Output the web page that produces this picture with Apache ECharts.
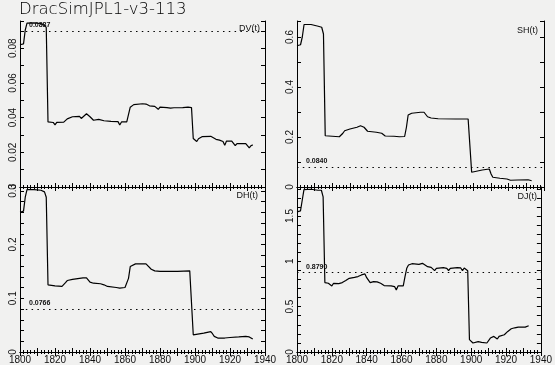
<!DOCTYPE html>
<html>
<head>
<meta charset="utf-8">
<script src="https://cdn.jsdelivr.net/npm/echarts@6/dist/echarts.min.js"></script>
<style>
  html, body { margin: 0; padding: 0; background: #f1f1f0; }
  #chart { width: 555px; height: 365px; }
</style>
</head>
<body>
<div id="chart"></div>
<script>
// Drac sim series (year, value)
const dvYears = [1800,1802,1803,1804,1808,1812,1814,1815,1816,1819,1820,1821,1825,1827,1830,1834,1835,1838,1840,1842,1845,1848,1852,1856,1857,1858,1861,1862,1863,1865,1870,1872,1874,1877,1879,1880,1884,1886,1887,1888,1893,1896,1897,1898,1899,1901,1902,1904,1909,1910,1912,1914,1916,1917,1918,1921,1923,1924,1929,1931,1932,1933];
const dvValues = [0.0820,0.0825,0.0905,0.0945,0.0946,0.0942,0.0932,0.0920,0.0375,0.0372,0.0358,0.0372,0.0374,0.0393,0.0405,0.0407,0.0395,0.0422,0.0405,0.0385,0.0390,0.0382,0.0378,0.0377,0.0357,0.0375,0.0376,0.0385,0.0460,0.0475,0.0480,0.0478,0.0468,0.0465,0.0448,0.0460,0.0458,0.0455,0.0448,0.0457,0.0458,0.0460,0.0452,0.0458,0.0280,0.0262,0.0278,0.0290,0.0292,0.0288,0.0275,0.0270,0.0262,0.0240,0.0265,0.0265,0.0238,0.0250,0.0250,0.0225,0.0238,0.0243];

const shYears = [1800,1802,1803,1804,1808,1812,1814,1815,1816,1820,1824,1825,1826,1827,1830,1834,1836,1837,1838,1840,1845,1848,1850,1855,1858,1861,1862,1863,1865,1870,1872,1874,1876,1880,1890,1897,1898,1899,1900,1905,1909,1910,1911,1915,1919,1921,1925,1931,1933];
const shValues = [0.565,0.569,0.600,0.650,0.650,0.643,0.639,0.612,0.205,0.203,0.201,0.201,0.215,0.225,0.232,0.239,0.245,0.248,0.239,0.223,0.219,0.215,0.204,0.203,0.201,0.202,0.238,0.288,0.295,0.299,0.299,0.281,0.276,0.273,0.272,0.272,0.265,0.059,0.065,0.068,0.072,0.052,0.039,0.035,0.032,0.027,0.028,0.029,0.025];

const dhYears = [1800,1802,1803,1804,1808,1812,1814,1815,1816,1820,1824,1825,1826,1827,1830,1834,1836,1837,1838,1840,1842,1846,1848,1850,1855,1857,1860,1861,1862,1863,1864,1866,1872,1873,1875,1877,1880,1890,1897,1898,1899,1900,1905,1909,1910,1911,1913,1917,1920,1925,1929,1931,1933];
const dhValues = [0.260,0.262,0.288,0.302,0.302,0.301,0.298,0.288,0.125,0.123,0.122,0.123,0.129,0.133,0.135,0.137,0.138,0.140,0.138,0.130,0.128,0.127,0.125,0.122,0.120,0.119,0.120,0.122,0.137,0.159,0.162,0.164,0.164,0.163,0.154,0.151,0.150,0.150,0.151,0.148,0.032,0.035,0.035,0.038,0.034,0.029,0.026,0.026,0.027,0.028,0.029,0.028,0.024];

const djYears = [1800,1802,1803,1804,1808,1812,1813,1814,1815,1816,1818,1819,1820,1821,1824,1825,1826,1828,1830,1833,1834,1835,1836,1837,1839,1840,1842,1844,1846,1848,1850,1854,1856,1857,1858,1861,1862,1863,1864,1866,1870,1871,1872,1873,1875,1877,1878,1879,1880,1884,1886,1887,1888,1892,1894,1895,1896,1897,1898,1899,1900,1901,1902,1904,1906,1907,1909,1910,1911,1913,1914,1915,1916,1917,1919,1920,1921,1923,1925,1927,1929,1930,1931,1932,1933];
const djValues = [1.546,1.557,1.674,1.790,1.795,1.784,1.777,1.784,1.710,0.766,0.758,0.758,0.729,0.758,0.755,0.751,0.766,0.788,0.813,0.824,0.813,0.832,0.813,0.850,0.861,0.820,0.766,0.777,0.773,0.758,0.733,0.729,0.722,0.685,0.729,0.729,0.831,0.923,0.960,0.974,0.967,0.960,0.978,0.960,0.941,0.934,0.923,0.897,0.923,0.930,0.923,0.897,0.923,0.930,0.927,0.897,0.927,0.934,0.897,0.136,0.117,0.099,0.117,0.114,0.106,0.106,0.099,0.117,0.154,0.172,0.172,0.143,0.172,0.180,0.190,0.201,0.227,0.256,0.267,0.275,0.275,0.260,0.275,0.282,0.290];

const refValues = [0.0887, 0.0840, 0.0766, 0.8790];
const panelNames = ['DV(t)', 'SH(t)', 'DH(t)', 'DJ(t)'];
const yMax = [0.0957, 0.664, 0.307, 1.82];
const yTickStep = [0.01, 0.1, 0.02, 0.1];
const yLabelStep = [0.02, 0.2, 0.1, 0.5];
const xTicks = [1800, 1820, 1840, 1860, 1880, 1900, 1920, 1940];

const seriesYears = [dvYears, shYears, dhYears, djYears];
const seriesValues = [dvValues, shValues, dhValues, djValues];

const FONT = 'Liberation Sans';
const grids = [
  {left: 20, top: 21, width: 245, height: 166},
  {left: 297, top: 21, width: 247, height: 166},
  {left: 20, top: 187, width: 245, height: 166},
  {left: 297, top: 187, width: 247, height: 166}
];
const labelRight = [295, 17, 297, 18];
const labelTop = [24, 26, 191, 192];

function isMultiple(v, step) {
  const r = v / step;
  return Math.abs(r - Math.round(r)) < 1e-6;
}

const xAxis = [], yAxis = [], series = [];
const title = [{
  text: 'DracSimJPL1-v3-113', left: 19, top: 1, padding: 0,
  textStyle: {fontFamily: 'DejaVu Sans', fontWeight: 200, fontSize: 16.5, color: '#000'}
}];

grids.forEach((g, i) => {
  const bottomRow = i >= 2;
  const baseX = {
    gridIndex: i, type: 'value', min: 1800, max: 1940, interval: 10,
    axisLine: {lineStyle: {color: '#000', width: 1}},
    axisTick: {inside: true, length: 4, lineStyle: {color: '#000'}},
    minorTick: {show: true, splitNumber: 5, length: 2, lineStyle: {color: '#000'}},
    splitLine: {show: false}
  };
  xAxis.push(Object.assign({}, baseX, {
    position: 'bottom',
    axisLabel: {
      show: bottomRow, margin: 3, fontFamily: FONT, fontSize: 10, color: '#111',
      formatter: v => xTicks.indexOf(v) >= 0 ? String(v) : ''
    }
  }));
  xAxis.push(Object.assign({}, baseX, {position: 'top', axisLabel: {show: false}}));

  const baseY = {
    gridIndex: i, type: 'value', min: 0, max: yMax[i], interval: yTickStep[i],
    axisLine: {show: true, lineStyle: {color: '#000', width: 1}},
    axisTick: {inside: true, length: 4, lineStyle: {color: '#000'}},
    splitLine: {show: false}
  };
  yAxis.push(Object.assign({}, baseY, {
    position: 'left',
    axisLabel: {
      rotate: 90, margin: 2, fontFamily: FONT, fontSize: 10, color: '#111',
      formatter: v => isMultiple(v, yLabelStep[i]) ? String(+v.toFixed(4)) : ''
    }
  }));
  yAxis.push(Object.assign({}, baseY, {position: 'right', axisLabel: {show: false}}));

  title.push({
    text: panelNames[i], right: labelRight[i], top: labelTop[i], padding: 0,
    textStyle: {fontFamily: FONT, fontWeight: 'normal', fontSize: 9, color: '#111'}
  });

  series.push({
    type: 'line',
    xAxisIndex: i * 2, yAxisIndex: i * 2,
    data: seriesYears[i].map((y, k) => [y, seriesValues[i][k]]),
    showSymbol: false, symbol: 'none',
    lineStyle: {color: '#000', width: 1.2},
    silent: true,
    markLine: {
      silent: true, symbol: 'none', animation: false,
      lineStyle: {color: '#000', width: 1, type: [1.5, 4.3]},
      label: {
        position: 'insideStartTop', distance: [9, 2],
        formatter: refValues[i].toFixed(4),
        fontFamily: FONT, fontSize: 7, fontWeight: 'bold', color: '#111'
      },
      data: [{yAxis: refValues[i]}]
    }
  });
});

const chart = echarts.init(document.getElementById('chart'));
chart.setOption({
  backgroundColor: '#f1f1f0',
  animation: false,
  title: title,
  grid: grids,
  xAxis: xAxis,
  yAxis: yAxis,
  series: series
});
</script>
</body>
</html>
